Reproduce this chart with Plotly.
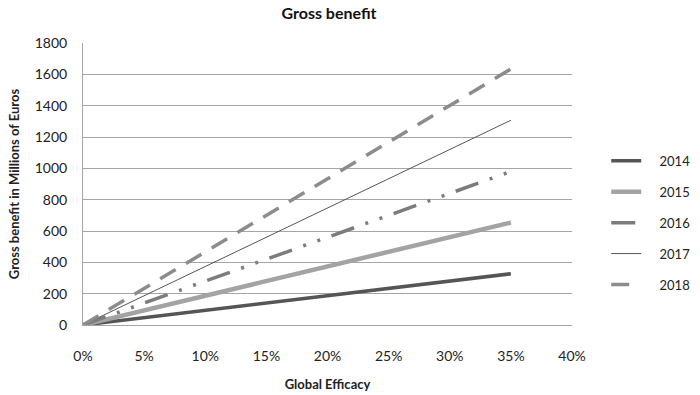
import plotly.graph_objects as go

efficacy = [0.0, 0.35]
years = ["2014", "2015", "2016", "2017", "2018"]
benefit_2014 = [0, 327]
benefit_2015 = [0, 654]
benefit_2016 = [0, 980]
benefit_2017 = [0, 1307]
benefit_2018 = [0, 1634]
series = [benefit_2014, benefit_2015, benefit_2016, benefit_2017, benefit_2018]

colors = ["#555555", "#a3a3a3", "#7c7c7c", "#555555", "#8c8c8c"]
widths = [3.5, 4.5, 3.5, 1, 3.5]
dashes = ["solid", "solid", "24px,12px,3px,12px,3px,12px", "solid", "18px,12px"]

fig = go.Figure()
for i, (name, vals) in enumerate(zip(years, series)):
    fig.add_trace(go.Scatter(
        x=efficacy, y=vals, mode="lines", name="\u00a0\u00a0\u00a0\u00a0" + name,
        legendgroup=name,
        line=dict(color=colors[i], width=widths[i], dash=dashes[i]),
    ))

font = "Lato, 'Open Sans', sans-serif"
fig.update_layout(
    width=700, height=395,
    margin=dict(l=83, r=128, t=43, b=70, autoexpand=False),
    paper_bgcolor="white", plot_bgcolor="white",
    font=dict(family=font, size=13, color="#222"),
    title=dict(text="<b>Gross benefit</b>", x=0.47, xanchor="center", y=1 - 13 / 395, yanchor="middle",
               font=dict(size=16, color="#111")),
    legend=dict(x=1.07, xanchor="left", y=0.362, yanchor="middle",
                traceorder="grouped", tracegroupgap=11,
                font=dict(size=13, color="#222"), bgcolor="rgba(0,0,0,0)"),
    showlegend=True,
)
fig.update_xaxes(range=[0, 0.4], dtick=0.05, tickformat=".0%", automargin=False,
                 showgrid=False, showline=True, linecolor="#a6a6a6", linewidth=1,
                 zeroline=False, ticks="", ticklabelstandoff=18,
                 tickfont=dict(size=14),
                 title=dict(text="<b>Global Efficacy</b>", standoff=17, font=dict(size=13)))
fig.update_yaxes(range=[0, 1800], dtick=200, automargin=False,
                 showgrid=True, gridcolor="#a6a6a6", gridwidth=1,
                 showline=True, linecolor="#a6a6a6", linewidth=1,
                 zeroline=False, ticks="", ticklabelstandoff=12,
                 tickfont=dict(size=14),
                 title=dict(text="<b>Gross benefit in Millions of Euros</b>", standoff=12, font=dict(size=13)))

fig.write_html("out.html", config={"displayModeBar": False},
               post_script="document.body.style.margin='0';")
